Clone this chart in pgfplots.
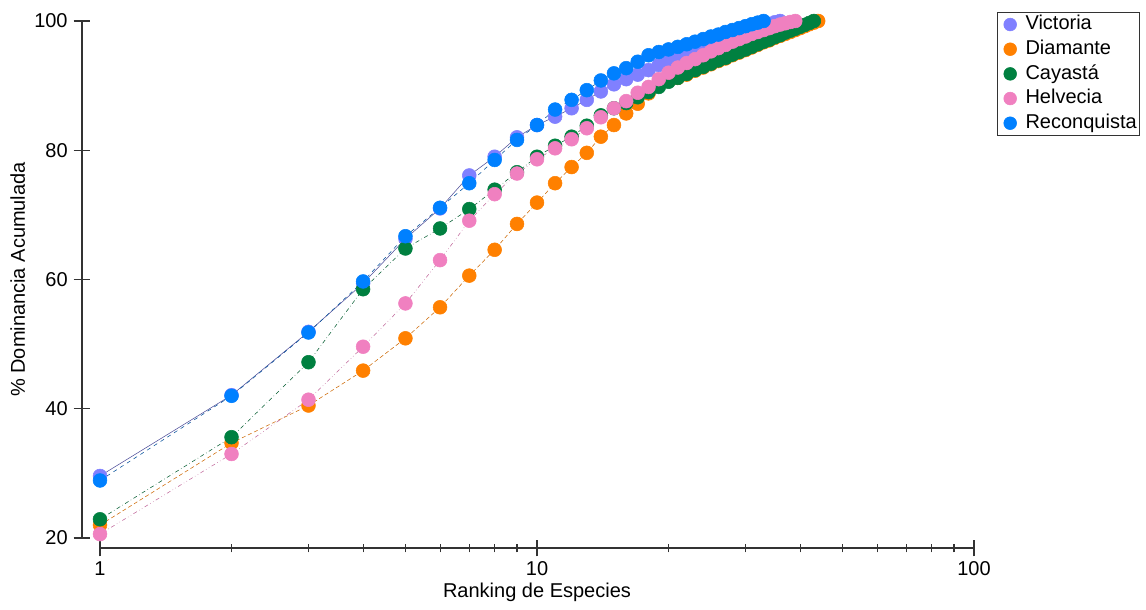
\documentclass[border=0pt]{standalone}
\usepackage{fontspec}
\setmainfont{Liberation Sans}
\usepackage{pgfplots}
\usepackage{pgfplotstable}
\pgfplotsset{compat=1.18}
\definecolor{cVic}{RGB}{128,128,255}
\definecolor{cDia}{RGB}{255,128,0}
\definecolor{cCay}{RGB}{0,128,64}
\definecolor{cHel}{RGB}{240,128,192}
\definecolor{cRec}{RGB}{0,128,255}

\pgfplotstableread{
n y
1 29.6
2 42.1
3 51.9
4 59.4
5 66.3
6 71.0
7 76.1
8 79.0
9 82.0
10 83.9
11 85.2
12 86.5
13 87.8
14 89.1
15 90.2
16 91.0
17 91.7
18 92.4
19 93.2
20 93.8
21 94.4
22 95.0
23 95.5
24 96.0
25 96.45
26 96.9
27 97.3
28 97.7
29 98.05
30 98.4
31 98.75
32 99.05
33 99.3
34 99.55
35 99.8
36 100
}\vic

\pgfplotstableread{
n y
1 22.0
2 34.7
3 40.5
4 45.9
5 50.9
6 55.7
7 60.6
8 64.6
9 68.6
10 71.9
11 74.9
12 77.4
13 79.6
14 82.1
15 83.9
16 85.7
17 87.2
18 88.8
19 90.1
20 90.7
21 91.2
22 91.7
23 92.3
24 92.8
25 93.3
26 93.8
27 94.2
28 94.7
29 95.1
30 95.5
31 95.9
32 96.3
33 96.7
34 97.0
35 97.4
36 97.7
37 98.0
38 98.3
39 98.6
40 98.9
41 99.2
42 99.5
43 99.75
44 100
}\dia

\pgfplotstableread{
n y
1 22.9
2 35.6
3 47.2
4 58.5
5 64.8
6 67.9
7 70.9
8 73.9
9 76.6
10 79.0
11 80.7
12 82.1
13 83.8
14 85.4
15 86.5
16 87.3
17 88.2
18 89.0
19 89.8
20 90.6
21 91.2
22 91.8
23 92.4
24 92.9
25 93.4
26 93.9
27 94.3
28 94.8
29 95.2
30 95.6
31 96.0
32 96.4
33 96.8
34 97.1
35 97.5
36 97.8
37 98.2
38 98.5
39 98.8
40 99.1
41 99.4
42 99.7
43 100
}\cay

\pgfplotstableread{
n y
1 20.6
2 33.0
3 41.4
4 49.6
5 56.3
6 63.0
7 69.1
8 73.2
9 76.4
10 78.6
11 80.3
12 81.7
13 83.4
14 85.1
15 86.5
16 87.6
17 88.9
18 89.8
19 91.0
20 92.0
21 92.8
22 93.5
23 94.1
24 94.7
25 95.3
26 95.8
27 96.3
28 96.8
29 97.2
30 97.6
31 98.0
32 98.3
33 98.6
34 98.9
35 99.2
36 99.45
37 99.65
38 99.85
39 100
}\hel

\pgfplotstableread{
n y
1 28.9
2 42.0
3 51.8
4 59.7
5 66.7
6 71.1
7 74.9
8 78.5
9 81.6
10 83.9
11 86.3
12 87.8
13 89.3
14 90.8
15 91.9
16 92.7
17 93.7
18 94.7
19 95.2
20 95.6
21 96.0
22 96.4
23 96.8
24 97.2
25 97.6
26 97.9
27 98.3
28 98.6
29 98.9
30 99.2
31 99.5
32 99.75
33 100
}\rec

\begin{document}
\begin{tikzpicture}[font=\fontsize{15pt}{18pt}\selectfont]
\useasboundingbox (-75pt,-54pt) rectangle (784.5pt,403.5pt);
\begin{axis}[
  scale only axis, width=655.5pt, height=387.75pt,
  xmode=log, xmin=1, xmax=100, ymin=20, ymax=100,
  axis lines=left, axis line style={-, black!80, line width=0.8pt},
  axis x line shift=7.5pt, axis y line shift=13.5pt,
  xtick={1,10,100}, xticklabels={1,10,100},
  minor xtick={2,3,4,5,6,7,8,9,20,30,40,50,60,70,80,90},
  ytick={20,40,60,80,100}, yticklabels={20,40,60,80,100},
  tick align=center, major tick length=12.5pt, minor tick length=6.5pt,
  tick style={black!80, line width=0.8pt},
  xticklabel style={yshift=-0.3pt}, yticklabel style={xshift=-1pt},
  clip=false,
  xlabel={Ranking de Especies}, ylabel={\% Dominancia Acumulada},
  every axis x label/.style={at={(axis description cs:0.5,0)}, anchor=north, yshift=-30.5pt},
  every axis y label/.style={at={([xshift=-52.7pt]axis description cs:0,0.5)}, rotate=90, anchor=south},
  legend cell align=left,
  legend style={at={(1.0263,1.0174)}, anchor=north west, draw=black!80, line width=0.8pt,
    fill=white, inner xsep=0.5pt, inner ysep=0.5pt, row sep=1.5pt,
    nodes={inner sep=1.5pt, text height=11pt, text depth=3pt}},
  legend image code/.code={\path[draw=none,fill=none] (-9pt,0pt) -- (10pt,0pt);\draw[#1, only marks, mark size=4.8pt] plot coordinates {(0pt,0pt)};},
]
\addplot[color=cVic!60!black, line width=0.4pt, mark=*, mark size=5.2pt, mark options={solid, fill=cVic, draw=cVic}] table[x=n,y=y] {\vic};
\addlegendentry{Victoria}
\addplot[color=cDia!80!black, line width=0.4pt, densely dashed, mark=*, mark size=5.2pt, mark options={solid, fill=cDia, draw=cDia}] table[x=n,y=y] {\dia};
\addlegendentry{Diamante}
\addplot[color=cCay!70!black, line width=0.4pt, dash dot, mark=*, mark size=5.2pt, mark options={solid, fill=cCay, draw=cCay}] table[x=n,y=y] {\cay};
\addlegendentry{Cayastá}
\addplot[color=cHel!80!black, line width=0.4pt, dash dot dot, mark=*, mark size=5.2pt, mark options={solid, fill=cHel, draw=cHel}] table[x=n,y=y] {\hel};
\addlegendentry{Helvecia}
\addplot[color=cRec!60!black, line width=0.4pt, dashed, mark=*, mark size=5.2pt, mark options={solid, fill=cRec, draw=cRec}] table[x=n,y=y] {\rec};
\addlegendentry{Reconquista}
\end{axis}
\end{tikzpicture}
\end{document}
